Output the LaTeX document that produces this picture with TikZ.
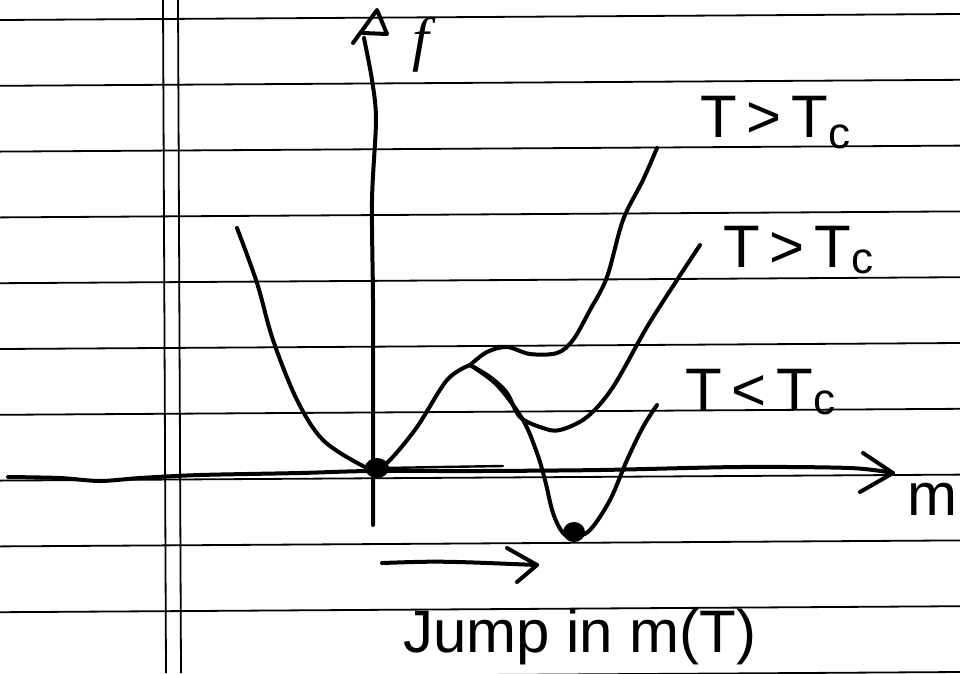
\documentclass[tikz,border=0pt]{standalone}
\usepackage{fontspec}
\setmainfont{Liberation Sans}
\newfontfamily\serifit{Liberation Serif}
\begin{document}
\begin{tikzpicture}[x=1pt,y=-1pt,
  rule/.style={line width=1.8pt, black},
  pen/.style={line width=4pt, line cap=round, line join=round},
  lbl/.style={font=\fontsize{60}{60}\selectfont, inner sep=0pt}]
\useasboundingbox (0,0) rectangle (960,673);
\fill[white] (0,0) rectangle (960,673);
% ruled paper
\foreach \k in {0,...,10} { \draw[rule] (0,{20+65.8*\k}) -- (960,{14+65.8*\k}); }
\draw[rule] (163,0) -- (166,673);
\draw[rule] (178,0) -- (181,673);
% m axis
\draw[pen] plot[smooth, tension=0.5] coordinates {(8,477) (60,478) (100,481) (140,478) (200,475) (300,473) (370,471) (480,471) (600,470) (740,467) (850,468) (893,473)};
\coordinate (mtip) at (893,473);
\coordinate (mup) at (863,453);
\coordinate (mlo) at (860,492);
\draw[pen] (mup) -- (mtip) -- (mlo);
\draw[pen, line width=2.4pt] (385,468) -- (440,467) -- (503,466);
\draw[pen, line width=2.4pt] (495,471) -- (530,470) -- (560,470);
% f axis
\draw[pen] plot[smooth, tension=0.5] coordinates {(373,525) (373,400) (373,300) (372,200) (376,120) (372,80) (364,38)};
\coordinate (ftip) at (377,10);
\draw[pen] (353,43) -- (ftip) -- (387,34) -- (363,33);
% shared left branch and hump
\draw[pen] plot[smooth, tension=0.55] coordinates {(237,228) (257,283) (273,340) (297,400) (323,440) (363,466) (377,468) (390,460) (417,427) (447,380) (470,365)};
% top curve T>Tc
\draw[pen] plot[smooth, tension=0.55] coordinates {(470,365) (487,352) (507,347) (530,354) (557,353) (573,340) (590,310) (607,277) (623,220) (643,180) (657,148)};
% middle curve T>Tc
\draw[pen] plot[smooth, tension=0.55] coordinates {(470,365) (490,377) (507,393) (520,417) (543,428) (560,430) (587,417) (613,387) (647,327) (677,280) (700,245)};
% bottom curve T<Tc
\draw[pen] plot[smooth, tension=0.55] coordinates {(470,365) (497,385) (523,420) (537,453) (545,480) (553,513) (563,533) (574,537) (590,530) (610,500) (627,460) (643,427) (657,405)};
% minima dots
\fill (377,468) ellipse [x radius=12pt, y radius=10pt];
\fill (574,532) ellipse [x radius=11pt, y radius=10pt];
% jump arrow
\coordinate (ja) at (382,563);
\coordinate (jb) at (537,565);
\draw[pen] (ja) .. controls (440,561) .. (jb);
\draw[pen] (507,548) -- (jb) -- (517,582);
% labels
\node[lbl, anchor=base west] (l1) at (700,137) {T\hspace{10pt}>\hspace{10pt}T\raisebox{-11pt}{\fontsize{44}{44}\selectfont c}};
\node[lbl, anchor=base west] (l2) at (723,267) {T\hspace{10pt}>\hspace{10pt}T\raisebox{-6pt}{\fontsize{44}{44}\selectfont c}};
\node[lbl, anchor=base west] (l3) at (685,410) {T\hspace{10pt}<\hspace{10pt}T\raisebox{-4pt}{\fontsize{44}{44}\selectfont c}};
\node[lbl, anchor=base west] (jl) at (403,652) {Jump in m(T)};
\node[lbl, anchor=base west] (ml) at (907,515) {m};
\node[inner sep=0pt, font=\fontsize{60}{60}\serifit\itshape] (fl) at (421,45) {f};
\end{tikzpicture}
\end{document}
